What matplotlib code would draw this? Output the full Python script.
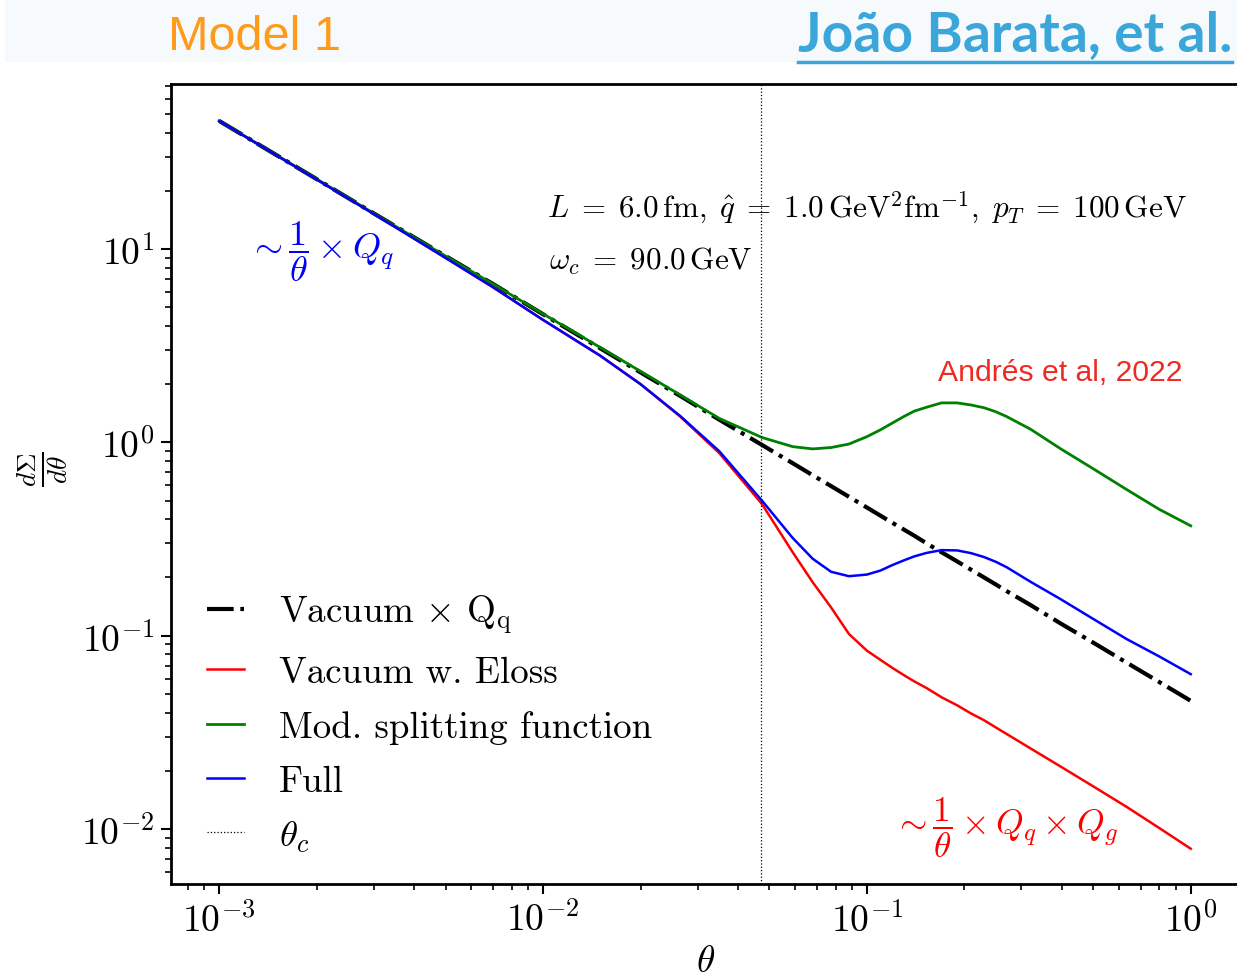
import numpy as np
import matplotlib
matplotlib.use("Agg")
from matplotlib import pyplot as plt
from matplotlib.lines import Line2D
from matplotlib.patches import Rectangle

plt.rcParams["mathtext.fontset"] = "cm"
plt.rcParams["font.family"] = ["cmr10", "DejaVu Serif"]
plt.rcParams["axes.formatter.use_mathtext"] = True

# opening angle grid and the four spectra dSigma/dtheta
theta = [0.001, 0.002, 0.003, 0.005, 0.007, 0.01, 0.015, 0.02, 0.0265, 0.035,
         0.0474, 0.059, 0.068, 0.0775, 0.088, 0.1, 0.11, 0.12, 0.13, 0.14,
         0.153, 0.17, 0.19, 0.21, 0.23, 0.25, 0.27, 0.32, 0.395, 0.5,
         0.634, 0.8, 1.0]
vacuum = [46.0, 23.0, 15.3, 9.2, 6.6, 4.6, 3.07, 2.30, 1.74, 1.31,
          0.97, 0.78, 0.676, 0.594, 0.523, 0.46, 0.418, 0.383, 0.354, 0.329,
          0.30, 0.27, 0.242, 0.219, 0.20, 0.184, 0.17, 0.144, 0.116, 0.092,
          0.0725, 0.0575, 0.046]
eloss = [46.0, 22.9, 15.2, 9.0, 6.35, 4.3, 2.81, 2.0, 1.36, 0.88,
         0.48, 0.27, 0.189, 0.14, 0.102, 0.0836, 0.075, 0.068, 0.0625, 0.058,
         0.0535, 0.048, 0.0436, 0.0395, 0.0365, 0.0335, 0.031, 0.0261, 0.0211, 0.0166,
         0.013, 0.0101, 0.0079]
mod_split = [46.0, 23.0, 15.3, 9.2, 6.6, 4.62, 3.1, 2.33, 1.76, 1.33,
             1.06, 0.95, 0.925, 0.94, 0.98, 1.07, 1.16, 1.26, 1.36, 1.45,
             1.52, 1.60, 1.60, 1.56, 1.51, 1.44, 1.36, 1.17, 0.93, 0.73,
             0.57, 0.45, 0.37]
full = [46.0, 22.9, 15.2, 9.0, 6.35, 4.3, 2.81, 2.0, 1.37, 0.90,
        0.50, 0.32, 0.25, 0.214, 0.203, 0.207, 0.217, 0.232, 0.245, 0.257,
        0.268, 0.277, 0.276, 0.267, 0.255, 0.241, 0.226, 0.19, 0.155, 0.122,
        0.096, 0.078, 0.0632]
theta_c = 0.0472

W, H = 1237, 979
fig = plt.figure(figsize=(W / 100, H / 100), dpi=100)

# header strip
fig.add_artist(Rectangle((5 / W, 1 - 63 / H), 1, 63 / H, transform=fig.transFigure,
                         facecolor="#f6fafc", edgecolor="none", zorder=0))
fig.text(168 / W, 1 - 37 / H, "Model 1", color="#ff9a1a", fontsize=35,
         family=["Liberation Sans"], va="center", ha="left")
author = fig.text(1232 / W, 1 - 35 / H, "João Barata, et al.", color="#3aa6da",
                  fontsize=39.7, fontweight="bold", family=["Lato", "DejaVu Sans"],
                  va="center", ha="right")
fig.canvas.draw()
bb = author.get_window_extent(fig.canvas.get_renderer())
fig.add_artist(Line2D([bb.x0 / W, bb.x1 / W], [1 - 63 / H, 1 - 63 / H],
                      transform=fig.transFigure, color="#3aa6da", lw=2.5))

ax = fig.add_axes([171 / W, 94 / H, 1068.3 / W, 800 / H])
ax.plot(theta, vacuum, "k-.", lw=3, label=r"Vacuum $\times$ Q$_{\rm q}$")
ax.plot(theta, eloss, color="red", lw=1.8, label="Vacuum w. Eloss")
ax.plot(theta, mod_split, color="green", lw=2.0, label="Mod. splitting function")
ax.plot(theta, full, color="blue", lw=1.8, label="Full")
ax.axvline(theta_c, color="k", ls=":", lw=0.9, label=r"$\theta_c$")

ax.set_xscale("log")
ax.set_yscale("log")
ax.set_xlim(10 ** -3.149, 10 ** 0.15)
ax.set_ylim(10 ** -2.285, 10 ** 1.854)

for s in ax.spines.values():
    s.set_linewidth(2)
ax.tick_params(which="major", labelsize=27, length=7, width=1.5, pad=5)
ax.tick_params(which="minor", length=4, width=1.2)

ax.set_xlabel(r"$\theta$", fontsize=27)
ax.xaxis.set_label_coords(0.5, -0.076)
ax.set_ylabel(r"$\frac{d\Sigma}{d\theta}$", fontsize=28, va="center")
ax.yaxis.set_label_coords(-0.12, 0.52)

ax.text(0.352, 0.834,
        r"$L\;=\;6.0\,\mathrm{fm},\;\hat{q}\;=\;1.0\,\mathrm{GeV}^2\mathrm{fm}^{-1},\;p_T\;=\;100\,\mathrm{GeV}$",
        transform=ax.transAxes, fontsize=22.4, va="baseline")
ax.text(0.354, 0.769, r"$\omega_c\;=\;90.0\,\mathrm{GeV}$",
        transform=ax.transAxes, fontsize=22.4, va="baseline")
ax.text(0.0725, 0.791, r"$\sim\dfrac{1}{\theta}\times Q_q$", color="blue",
        transform=ax.transAxes, fontsize=26, va="center")
ax.text(0.676, 0.071, r"$\sim\dfrac{1}{\theta}\times Q_q\times Q_g$", color="red",
        transform=ax.transAxes, fontsize=25.5, va="center")
ax.text(0.718, 0.64, "Andrés et al, 2022", color="#ee2a22",
        family=["Liberation Sans"], transform=ax.transAxes, fontsize=21.7, va="center")

ax.legend(loc="lower left", bbox_to_anchor=(0.005, 0.0), frameon=False, fontsize=26.6,
          handlelength=1.0, handletextpad=0.95, labelspacing=0.56, borderaxespad=0.42)

fig.savefig("out.png", dpi=100)
